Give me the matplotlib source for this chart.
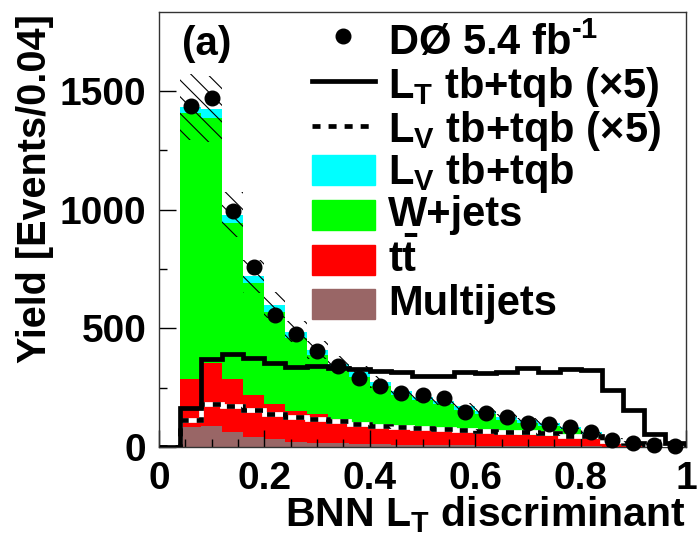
import numpy as np
import matplotlib.pyplot as plt
from matplotlib.patches import Rectangle
from matplotlib.lines import Line2D

plt.rcParams['font.family'] = ['Liberation Sans', 'DejaVu Sans']
plt.rcParams['font.weight'] = 'bold'
plt.rcParams['mathtext.fontset'] = 'custom'
plt.rcParams['mathtext.rm'] = 'Liberation Sans:bold'
plt.rcParams['mathtext.it'] = 'Liberation Sans:bold'
plt.rcParams['mathtext.bf'] = 'Liberation Sans:bold'
plt.rcParams['hatch.linewidth'] = 0.8

# bins of 0.04 from 0.04 to 1.0
edges = np.round(np.arange(0.04, 1.0001, 0.04), 2)
centers = edges[:-1] + 0.02

# stack components (events / 0.04)
multijets = [86, 90, 65, 44, 32, 22, 18, 15, 13, 11, 10, 9, 8, 7, 6, 5, 5, 4, 4, 3, 2, 1, 1, 0.5]
ttbar = [199, 263, 220, 175, 149, 130, 120, 105, 89, 82, 76, 71, 67, 63, 57, 53, 47, 42, 36, 30, 20, 9, 3, 1.5]
wjets = [1124, 1034, 659, 470, 389, 308, 248, 208, 194, 164, 132, 116, 105, 88, 74, 57, 48, 42, 35, 20, 8, 5, 2, 1]
lv_tb_tqb = [23, 37, 34, 31, 28, 26, 23, 22, 19, 18, 17, 16, 15, 14, 13, 13, 12, 12, 10, 9, 5, 3, 2, 1]
mc_unc = [140, 140, 95, 70, 55, 45, 38, 32, 28, 25, 21, 19, 17, 15, 13, 11, 10, 9, 8, 6, 4, 2, 1, 1]

# signal curves scaled by 5
lt_x5 = [165, 372, 393, 376, 356, 337, 340, 332, 330, 320, 317, 300, 298, 317, 313, 315, 332, 315, 328, 324, 242, 156, 55, 18]
lv_x5 = [114, 183, 172, 155, 141, 128, 117, 108, 95, 88, 86, 80, 75, 72, 66, 64, 62, 60, 48, 45, 25, 15, 8, 3]

# D0 data
data = [1437, 1471, 995, 759, 556, 475, 405, 343, 291, 257, 228, 219, 206, 149, 143, 126, 101, 97, 84, 63, 30, 17, 8, 5]

fig = plt.figure(figsize=(6.97, 5.41), dpi=100)
W, H = 697.0, 541.0
ax = fig.add_axes([159 / W, 1 - 447 / H, 527 / W, 435 / H])

def fp(x, y):
    return x / W, 1 - y / H

# stacked histogram
comps = [multijets, ttbar, wjets, lv_tb_tqb]
colors = ['#996666', '#ff0000', '#00ff00', '#00ffff']
base = np.zeros(len(centers))
for vals, c in zip(comps, colors):
    top = base + np.array(vals, dtype=float)
    ax.stairs(top, edges, baseline=base, fill=True, color=c, lw=0, zorder=1)
    base = top
total = base

# uncertainty band
unc = np.array(mc_unc, dtype=float)
ax.stairs(total + unc, edges, baseline=total - unc, fill=True, facecolor='none',
          edgecolor='black', hatch='\\\\', lw=0, zorder=2)

# signal x5 lines
ax.stairs(np.r_[0, lv_x5], np.r_[0, edges], baseline=None, color='white', lw=3.4, zorder=3)
ax.stairs(np.r_[0, lv_x5], np.r_[0, edges], baseline=None, color='black', lw=3.4,
          linestyle=(0, (1.7, 1.7)), zorder=3)
ax.stairs(np.r_[0, lt_x5], np.r_[0, edges], baseline=0, color='black', lw=3.4, zorder=4)

# data
ax.plot(centers, data, 'o', color='black', ms=10.5, zorder=5, clip_on=False)

ax.set_xlim(0, 1)
ax.set_ylim(0, 1833)
ax.set_xticks([0, 0.2, 0.4, 0.6, 0.8, 1.0])
ax.set_xticklabels(['0', '0.2', '0.4', '0.6', '0.8', '1'])
ax.set_xticks(np.arange(0, 1.0001, 0.05), minor=True)
ax.set_yticks([0, 500, 1000, 1500])
ax.set_yticks([250, 750, 1250], minor=True)
ax.tick_params(which='both', direction='in', labelsize=28, width=1, top=False, right=False)
ax.tick_params(which='major', length=12)
ax.tick_params(which='minor', length=6)
ax.tick_params(axis='y', which='major', pad=9)
ax.tick_params(axis='x', which='major', pad=10)
for s in ax.spines.values():
    s.set_linewidth(1)
    s.set_color('#333333')

# axis titles
fig.text(*fp(686, 526), r'BNN L$_\mathrm{T}$ discriminant', fontsize=29.5,
         ha='right', va='baseline')
fig.text(*fp(35, 14), 'Yield [Events/0.04]', fontsize=28.5, rotation=90,
         ha='center', va='top')
fig.text(*fp(182, 55), '(a)', fontsize=29, ha='left', va='baseline')

# legend drawn by hand
hx0, hx1 = 312, 375
tx = 388
fig.add_artist(Line2D([fp(343, 36)[0]], [fp(343, 36)[1]], marker='o', color='black',
                      ms=10.5, transform=fig.transFigure))
fig.add_artist(Line2D([hx0 / W, hx1 / W], [fp(0, 81)[1]] * 2, color='black', lw=3.4,
                      transform=fig.transFigure))
fig.add_artist(Line2D([hx0 / W, hx1 / W], [fp(0, 126)[1]] * 2, color='black', lw=3.4,
                      linestyle=(0, (1.7, 1.7)), transform=fig.transFigure))
for yc, c in zip([170, 215, 260, 304], ['#00ffff', '#00ff00', '#ff0000', '#996666']):
    fig.add_artist(Rectangle(fp(hx0, yc + 15), (hx1 - hx0) / W, 30 / H, color=c,
                             transform=fig.transFigure))
labels = [r'DØ 5.4 fb$^{\text{-1}}$', r'L$_\mathrm{T}$ tb+tqb (×5)', r'L$_\mathrm{V}$ tb+tqb (×5)',
          r'L$_\mathrm{V}$ tb+tqb', 'W+jets', r'$t\bar{t}$', 'Multijets']
baselines = [55, 98, 142, 184, 226, 272, 315]
for lab, yb in zip(labels, baselines):
    fig.text(*fp(tx, yb), lab, fontsize=30, ha='left', va='baseline')

fig.savefig('out.png', dpi=100)
